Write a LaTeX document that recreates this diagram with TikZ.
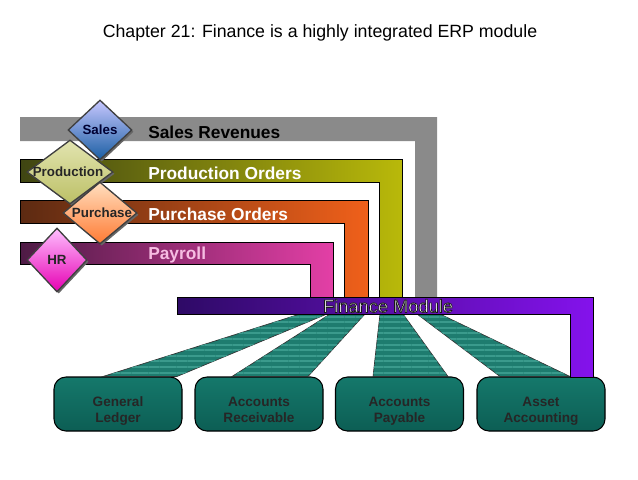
\documentclass[tikz,border=0pt]{standalone}
\usepackage{fontspec}
\setmainfont{Liberation Sans}
\usetikzlibrary{calc,shapes.geometric,shadows,patterns.meta}

\definecolor{salesgray}{HTML}{8A8A8A}
\definecolor{oliveL}{HTML}{3F4512}
\definecolor{oliveR}{HTML}{B9B90A}
\definecolor{orangeL}{HTML}{5C2A12}
\definecolor{orangeR}{HTML}{F0601A}
\definecolor{payL}{HTML}{4E1B45}
\definecolor{payR}{HTML}{E33FA6}
\definecolor{finL}{HTML}{2E0A66}
\definecolor{finR}{HTML}{8412EC}
\definecolor{feedteal}{HTML}{1E7C6F}
\definecolor{feedlight}{HTML}{3A9A8C}
\definecolor{boxtop}{HTML}{15786B}
\definecolor{boxbot}{HTML}{0C5E54}
\definecolor{paytext}{HTML}{F6BCE2}
\definecolor{prodtop}{HTML}{E2E4B0}
\definecolor{prodbot}{HTML}{BCC066}

\tikzset{
	band/.style={draw=black, line width=0.6pt},
	diam/.style={diamond, draw=black!75, line width=1pt, inner sep=0pt,
		drop shadow={shadow xshift=1.3pt, shadow yshift=-1.3pt, fill=black!60, opacity=1}},
	dlabel/.style={font=\fontsize{10}{12}\selectfont\bfseries, text=black!85},
	bandlabel/.style={anchor=west, inner sep=0pt, font=\fontsize{13}{15}\selectfont\bfseries},
	box/.style={draw=black, line width=0.8pt, rounded corners=9pt, minimum width=96pt,
		minimum height=40.5pt, top color=boxtop, bottom color=boxbot},
	boxtext/.style={align=center, font=\fontsize{10.2}{12}\selectfont\bfseries, text=black!85},
	feed/.style={draw=black!80, line width=0.5pt, fill=feedteal,
		postaction={pattern={Lines[angle=0, distance=4.2pt, line width=1.6pt]}, pattern color=feedlight}},
}

\begin{document}
\begin{tikzpicture}[x=0.75pt, y=-0.75pt]
			%%%%% START %%%%%
			\useasboundingbox (0, 0) rectangle (638, 479);
			
			\node (title) at (320, 33) {\fontsize{13.3}{16}\selectfont Chapter 21: Finance is a highly integrated ERP module};
			
			% flows into finance
			\fill[salesgray] (20, 117) -- (437, 117) -- (437, 298) -- (415, 298) -- (415, 141) -- (20, 141) -- cycle;
			\draw[band, left color=oliveL, right color=oliveR] (20, 159) -- (402, 159) -- (402, 298) -- (379, 298) -- (379, 182) -- (20, 182) -- cycle;
			\draw[band, left color=orangeL, right color=orangeR] (20, 200) -- (368, 200) -- (368, 298) -- (344, 298) -- (344, 223) -- (20, 223) -- cycle;
			\draw[band, left color=payL, right color=payR] (20, 242) -- (333, 242) -- (333, 298) -- (310, 298) -- (310, 264) -- (20, 264) -- cycle;
			
			\node[bandlabel, text=black] (salesrev) at (148, 132) {Sales Revenues};
			\node[bandlabel, text=white] (prodord) at (148, 173) {Production Orders};
			\node[bandlabel, text=white] (purchord) at (148, 214) {Purchase Orders};
			\node[bandlabel, text=paytext] (payroll) at (148, 255) {Payroll};
			
			% source modules
			\node[diam, minimum width=48pt, minimum height=45pt, top color=blue!22!white, bottom color=blue!50!cyan!60!black!90] (sales) at (100, 130) {};
			\node[dlabel, text=blue!20!black] (saleslbl) at (sales) {Sales};
			
			\node[diam, minimum width=64.5pt, minimum height=48pt, top color=prodtop, bottom color=prodbot] (prod) at (70, 172) {};
			\node[dlabel] (prodlbl) at (68, 172) {Production};
			
			\node[diam, minimum width=55.5pt, minimum height=46.5pt, top color=orange!25!white, bottom color=orange!70!red!80] (purch) at (100, 213) {};
			\node[dlabel] (purchlbl) at (102, 213) {Purchase};
			
			\node[diam, minimum width=45pt, minimum height=48pt, top color=magenta!25!white, bottom color=magenta!60!purple] (hr) at (57, 260) {};
			\node[dlabel] (hrlbl) at (hr) {HR};
			
			% finance sub modules
			\node[box] (gl) at (118, 404) {};
			\node[box] (ar) at (259, 404) {};
			\node[box] (ap) at (399.5, 404) {};
			\node[box] (aa) at (541, 404) {};
			\node[boxtext] (gltxt) at ($(gl)+(0, 7)$) {\strut General\\\strut Ledger};
			\node[boxtext] (artxt) at ($(ar)+(0, 7)$) {\strut Accounts\\\strut Receivable};
			\node[boxtext] (aptxt) at ($(ap)+(0, 7)$) {\strut Accounts\\\strut Payable};
			\node[boxtext] (aatxt) at ($(aa)+(0, 7)$) {\strut Asset\\\strut Accounting};
			
			\draw[feed] (300, 314) -- (327, 314) -- ($(gl.north)+(59, 0)$) -- ($(gl.north)+(-15, 0)$) -- cycle;
			\draw[feed] (330, 314) -- (365, 314) -- ($(ar.north)+(49, 0)$) -- ($(ar.north)+(-27, 0)$) -- cycle;
			\draw[feed] (380, 314) -- (403, 314) -- ($(ap.north)+(48.5, 0)$) -- ($(ap.north)+(-26.5, 0)$) -- cycle;
			\draw[feed] (417, 314) -- (440, 314) -- ($(aa.north)+(29, 0)$) -- ($(aa.north)+(-41, 0)$) -- cycle;
			
			\draw[band, left color=finL, right color=finR] (177, 297) -- (593, 297) -- (593, 377) -- (570, 377) -- (570, 314) -- (177, 314) -- cycle;
			
			% outlined title of the bar
			\node[text=white!92!gray] (finance) at (388, 306) {\fontsize{13.7}{15}\selectfont\special{pdf:literal direct 2 Tr 0.5 w 0.1 0.1 0.1 RG}Finance Module\special{pdf:literal direct 0 Tr}};
			
			%%%%% END %%%%%
\end{tikzpicture}
\end{document}
